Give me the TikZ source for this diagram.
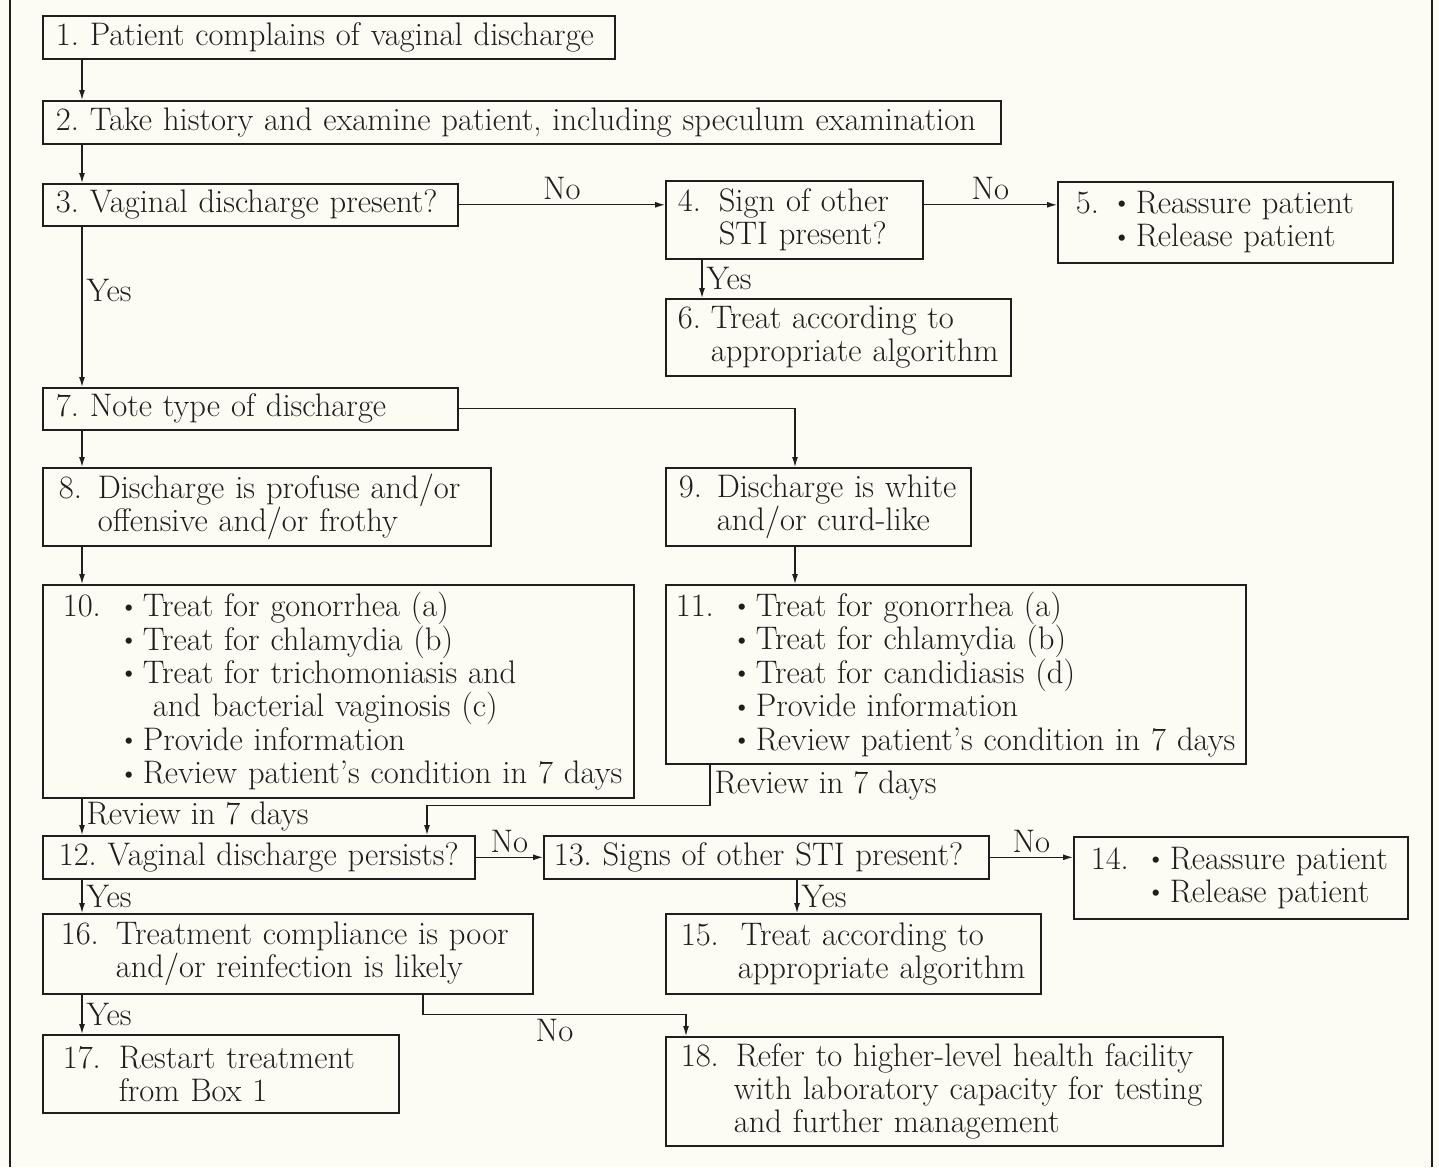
\documentclass[tikz,border=0pt]{standalone}
\usetikzlibrary{arrows.meta}

\definecolor{paper}{RGB}{252,252,245}
\definecolor{ink}{RGB}{30,30,30}

\frenchspacing
\newcommand{\boxno}[2]{\makebox[#1][l]{#2}}
\newcommand{\bul}{\makebox[8.5pt][l]{\hspace{-3.5pt}\raisebox{0.8pt}{\scalebox{0.85}{\textbullet}}}}

\tikzset{
	box/.style={draw=ink, line width=0.8pt, anchor=north west, align=left, inner xsep=0pt, inner ysep=0pt, text=ink},
	pad/.style={execute at begin node={\leftskip=#1\relax}},
	arr/.style={draw=ink, line width=0.6pt, -{Latex[length=5pt,width=3pt]}},
	lab/.style={text=ink, inner sep=2pt},
}

\begin{document}
\begin{tikzpicture}[x=0.5pt, y=-0.5pt, font=\fontsize{16.3}{16.7}\selectfont]
			\fill[paper] (0,0) rectangle (1439,1167);
			\useasboundingbox (0,0) rectangle (1439,1167);
			\draw[ink, line width=1pt] (10,0) -- (10,1167);
			\draw[ink, line width=1pt] (1432,0) -- (1432,1167);
			% boxes
			\node[box, text width=286pt, minimum height=21.5pt, pad=6.5pt] (b1) at (42,15) {1. Patient complains of vaginal discharge};
			\node[box, text width=479pt, minimum height=21.5pt, pad=6.5pt] (b2) at (42,100) {2. Take history and examine patient, including speculum examination};
			\node[box, text width=207.5pt, minimum height=21pt, pad=6.5pt] (b3) at (42,183) {3. Vaginal discharge present?};
			\node[box, text width=128.5pt, minimum height=39pt, pad=6pt] (b4) at (665,180) {\boxno{20.5pt}{4.}Sign of other\\\hspace*{20.5pt}STI present?};
			\node[box, text width=167.5pt, minimum height=40.5pt, pad=9pt] (b5) at (1057,181) {\boxno{21.5pt}{5.}\bul Reassure patient\\\hspace*{21.5pt}\bul Release patient};
			\node[box, text width=172.5pt, minimum height=38.5pt, pad=6pt] (b6) at (665,298) {\boxno{16.5pt}{6.}Treat according to\\\hspace*{16.5pt}appropriate algorithm};
			\node[box, text width=207.5pt, minimum height=21pt, pad=6.5pt] (b7) at (42,387) {7. Note type of discharge};
			\node[box, text width=224pt, minimum height=39pt, pad=8pt] (b8) at (42,467) {\boxno{19.5pt}{8.}Discharge is profuse and/or\\\hspace*{19.5pt}offensive and/or frothy};
			\node[box, text width=152.5pt, minimum height=39pt, pad=6.5pt] (b9) at (665,467) {\boxno{19pt}{9.}Discharge is white\\\hspace*{19pt}and/or curd-like};
			\node[box, text width=295.5pt, minimum height=106.5pt, pad=10pt] (b10) at (42,584) {\boxno{31.5pt}{10.}\bul Treat for gonorrhea (a)\\\hspace*{31.5pt}\bul Treat for chlamydia (b)\\\hspace*{31.5pt}\bul Treat for trichomoniasis and\\\hspace*{45pt}and bacterial vaginosis (c)\\\hspace*{31.5pt}\bul Provide information\\\hspace*{31.5pt}\bul Review patient's condition in 7 days};
			\node[box, text width=290pt, minimum height=89.5pt, pad=5pt] (b11) at (665,584) {\boxno{31.5pt}{11.}\bul Treat for gonorrhea (a)\\\hspace*{31.5pt}\bul Treat for chlamydia (b)\\\hspace*{31.5pt}\bul Treat for candidiasis (d)\\\hspace*{31.5pt}\bul Provide information\\\hspace*{31.5pt}\bul Review patient's condition in 7 days};
			\node[box, text width=216pt, minimum height=21.5pt, pad=8pt] (b12) at (42,835) {12. Vaginal discharge persists?};
			\node[box, text width=222.5pt, minimum height=21.5pt, pad=5pt] (b13) at (543,835) {13. Signs of other STI present?};
			\node[box, text width=167pt, minimum height=41pt, pad=8.5pt] (b14) at (1073,836) {\boxno{31pt}{14.}\bul Reassure patient\\\hspace*{31pt}\bul Release patient};
			\node[box, text width=187.5pt, minimum height=40pt, pad=7.5pt] (b15) at (665,913) {\boxno{30pt}{15.}Treat according to\\\hspace*{28.5pt}appropriate algorithm};
			\node[box, text width=245pt, minimum height=40pt, pad=9pt] (b16) at (42,913) {\boxno{27.5pt}{16.}Treatment compliance is poor\\\hspace*{27.5pt}and/or reinfection is likely};
			\node[box, text width=178pt, minimum height=39pt, pad=10pt] (b17) at (42,1034) {\boxno{28pt}{17.}Restart treatment\\\hspace*{28pt}from Box 1};
			\node[box, text width=278.5pt, minimum height=54.5pt, pad=7.5pt] (b18) at (665,1036) {\boxno{27.5pt}{18.}Refer to higher-level health facility\\\hspace*{26.5pt}with laboratory capacity for testing\\\hspace*{26.5pt}and further management};
			% connectors
			\draw[arr] ([xshift=20pt]b1.south west) to ([xshift=20pt]b2.north west);
			\draw[arr] ([xshift=20pt]b2.south west) to ([xshift=20pt]b3.north west);
			\draw[arr] (b3.east) to node[lab, above]{No} (b3.east -| b4.west);
			\draw[arr] (b3.east -| b4.east) to node[lab, above]{No} (b3.east -| b5.west);
			\draw[arr] ([xshift=18.5pt]b4.south west) to node[lab, right]{Yes} ([xshift=18.5pt]b6.north west);
			\draw[arr] ([xshift=20pt]b3.south west) to node[lab, right, pos=0.4]{Yes} ([xshift=20pt]b7.north west);
			\draw[arr] ([xshift=20pt]b7.south west) to ([xshift=20pt]b8.north west);
			\draw[arr] (b7.east) -| ([xshift=65pt]b9.north west);
			\draw[arr] ([xshift=20pt]b8.south west) to ([xshift=20pt]b10.north west);
			\draw[arr] ([xshift=65pt]b9.south west) to ([xshift=65pt]b11.north west);
			\draw[arr] ([xshift=20pt]b10.south west) to node[lab, right]{Review in 7 days} ([xshift=20pt]b12.north west);
			\draw[arr] ([xshift=22.5pt]b11.south west) -- node[lab, right]{Review in 7 days} ++(0,41) -| ([xshift=192.5pt]b12.north west);
			\draw[arr] (b12.east) to node[lab, above]{No} (b12.east -| b13.west);
			\draw[arr] (b13.east) to node[lab, above]{No} (b13.east -| b14.west);
			\draw[arr] ([xshift=127pt]b13.south west) to node[lab, right]{Yes} ([xshift=66pt]b15.north west);
			\draw[arr] ([xshift=20pt]b12.south west) to node[lab, right]{Yes} ([xshift=20pt]b16.north west);
			\draw[arr] ([xshift=20pt]b16.south west) to node[lab, right]{Yes} ([xshift=20pt]b17.north west);
			\draw[arr] ([xshift=190.5pt]b16.south west) -- ++(0,20) -| node[lab, below, pos=0.25]{No} ([xshift=10.5pt]b18.north west);
\end{tikzpicture}
\end{document}
